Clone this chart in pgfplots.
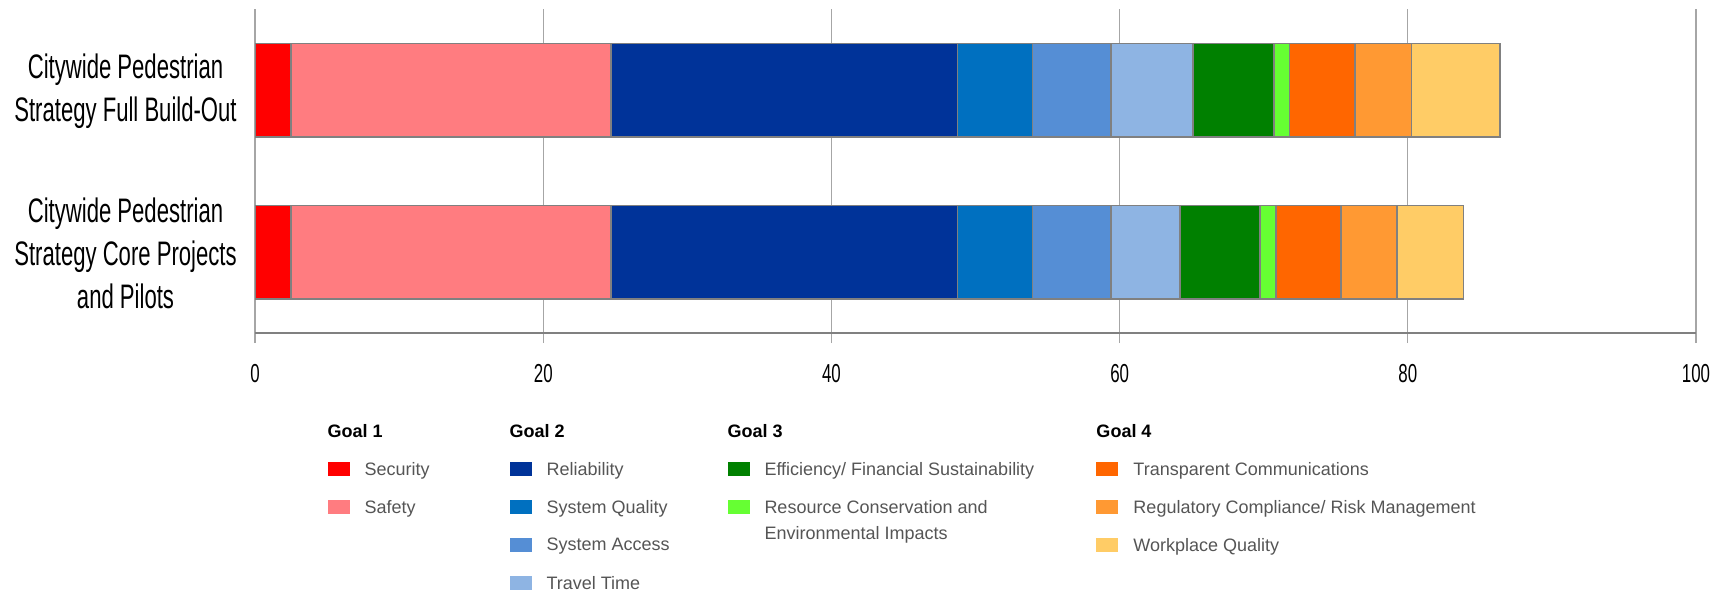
\documentclass[border=0pt]{standalone}
\usepackage{fontspec}
\setmainfont{Liberation Sans}
\newfontfamily\condfont[FakeStretch=0.65]{Liberation Sans}
\usepackage{pgfplots}
\pgfplotsset{compat=1.18}

\definecolor{cSecurity}{HTML}{FF0000}
\definecolor{cSafety}{HTML}{FF7C80}
\definecolor{cReliab}{HTML}{003399}
\definecolor{cSysQual}{HTML}{0070C0}
\definecolor{cSysAcc}{HTML}{558ED5}
\definecolor{cTravel}{HTML}{8EB4E3}
\definecolor{cEffic}{HTML}{008000}
\definecolor{cResour}{HTML}{66FF33}
\definecolor{cTransp}{HTML}{FF6600}
\definecolor{cRegul}{HTML}{FF9933}
\definecolor{cWork}{HTML}{FFCC66}
\definecolor{barline}{HTML}{808080}
\definecolor{gridgray}{HTML}{A6A6A6}
\definecolor{legtext}{HTML}{555555}

\begin{document}
\begin{tikzpicture}
\begin{axis}[
  scale only axis,
  width=720.5pt, height=162pt,
  xbar stacked,
  bar width=46.7pt,
  xmin=0, xmax=100,
  ymin=-0.5, ymax=1.5,
  xtick={0,20,...,100},
  ytick={0,1},
  yticklabels={{Citywide Pedestrian\\Strategy Core Projects\\and Pilots},
               {Citywide Pedestrian\\Strategy Full Build-Out}},
  yticklabel style={align=center, inner sep=0pt, xshift=-4pt, yshift=-0.5pt,
                    font=\condfont\fontsize{17}{21.5}\selectfont},
  xticklabel style={inner sep=0pt, yshift=-10.5pt,
                    font=\condfont\fontsize{13}{13}\selectfont},
  /pgf/number format/assume math mode=true,
  axis lines*=left,
  y axis line style={draw=none},
  x axis line style={draw=barline, line width=1.3pt},
  ytick style={draw=none},
  xtick style={draw=gridgray, line width=0.6pt},
  tick align=outside,
  major tick length=5pt,
  xmajorgrids,
  grid style={draw=gridgray, line width=0.6pt},
  every axis plot/.append style={draw=barline, line width=0.8pt},
  legend image code/.code={\fill[#1, draw=none] (0pt,-3.5pt) rectangle (11pt,3.5pt);},
  legend columns=5,
  transpose legend,
  legend cell align=left,
  legend style={at={(axis description cs:0.05,-0.281)}, anchor=north west,
                draw=none, fill=none, inner sep=0pt, row sep=12pt,
                font=\fontsize{9}{11}\selectfont,
                nodes={inner sep=0pt, text depth=0pt, text=legtext},
                /tikz/every odd column/.style={column sep=7.5pt},
                /tikz/every even column/.style={column sep=0pt}},
]
% y = 1: Full Build-Out, y = 0: Core Projects and Pilots
\addplot[fill=cSecurity, forget plot] coordinates {(2.5,1) (2.5,0)};
\addplot[fill=cSafety, forget plot] coordinates {(22.2,1) (22.2,0)};
\addplot[fill=cReliab, forget plot] coordinates {(24.05,1) (24.05,0)};
\addplot[fill=cSysQual, forget plot] coordinates {(5.2,1) (5.2,0)};
\addplot[fill=cSysAcc, forget plot] coordinates {(5.45,1) (5.45,0)};
\addplot[fill=cTravel, forget plot] coordinates {(5.7,1) (4.8,0)};
\addplot[fill=cEffic, forget plot] coordinates {(5.6,1) (5.55,0)};
\addplot[fill=cResour, forget plot] coordinates {(1.1,1) (1.1,0)};
\addplot[fill=cTransp, forget plot] coordinates {(4.55,1) (4.5,0)};
\addplot[fill=cRegul, forget plot] coordinates {(3.9,1) (3.9,0)};
\addplot[fill=cWork, forget plot] coordinates {(6.15,1) (4.6,0)};

% legend, column by column
\addlegendimage{empty legend}
\addlegendentry{\hspace*{-18.5pt}\textcolor{black}{\textbf{Goal 1}}}
\addlegendimage{fill=cSecurity}
\addlegendentry{\makebox[72.5pt][l]{Security}}
\addlegendimage{fill=cSafety}
\addlegendentry{Safety}
\addlegendimage{empty legend}
\addlegendentry{\mbox{}}
\addlegendimage{empty legend}
\addlegendentry{\mbox{}}

\addlegendimage{empty legend}
\addlegendentry{\hspace*{-18.5pt}\textcolor{black}{\textbf{Goal 2}}}
\addlegendimage{fill=cReliab}
\addlegendentry{\makebox[90.5pt][l]{Reliability}}
\addlegendimage{fill=cSysQual}
\addlegendentry{System Quality}
\addlegendimage{fill=cSysAcc}
\addlegendentry{System Access}
\addlegendimage{fill=cTravel}
\addlegendentry{Travel Time}

\addlegendimage{empty legend}
\addlegendentry{\hspace*{-18.5pt}\textcolor{black}{\textbf{Goal 3}}}
\addlegendimage{fill=cEffic}
\addlegendentry{\makebox[166pt][l]{Efficiency/ Financial Sustainability}}
\addlegendimage{fill=cResour}
\addlegendentry{\raisebox{0pt}[\height][0pt]{\parbox[t]{160pt}{\setlength{\baselineskip}{13pt}Resource Conservation and\\Environmental Impacts}}}
\addlegendimage{empty legend}
\addlegendentry{\mbox{}}
\addlegendimage{empty legend}
\addlegendentry{\mbox{}}

\addlegendimage{empty legend}
\addlegendentry{\hspace*{-18.5pt}\textcolor{black}{\textbf{Goal 4}}}
\addlegendimage{fill=cTransp}
\addlegendentry{Transparent Communications}
\addlegendimage{fill=cRegul}
\addlegendentry{Regulatory Compliance/ Risk Management}
\addlegendimage{fill=cWork}
\addlegendentry{Workplace Quality}
\addlegendimage{empty legend}
\addlegendentry{\mbox{}}

\coordinate (bbsw) at (axis description cs:-0.177,-0.793);
\coordinate (bbne) at (axis description cs:1.0187,1.0278);
\end{axis}
\path (bbsw) rectangle (bbne);
\end{tikzpicture}
\end{document}
